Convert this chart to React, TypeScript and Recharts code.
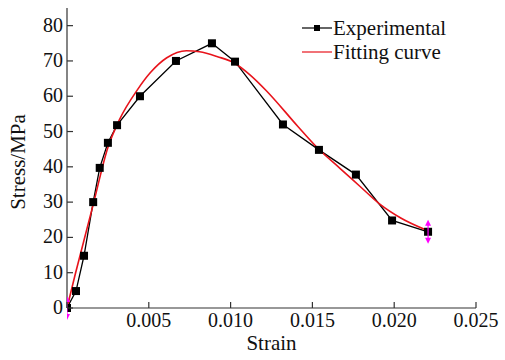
import React from 'react';
import { LineChart, Line, XAxis, YAxis, Scatter } from 'recharts';

// experimental points (strain, stress in MPa)
const expStrain = [0, 0.00055, 0.00104, 0.0016, 0.002, 0.0025, 0.00306, 0.00446, 0.00666, 0.00886, 0.01027, 0.0132, 0.0154, 0.01766, 0.01987, 0.02207];
const expStress = [0, 4.8, 14.8, 30, 39.7, 46.8, 51.8, 60, 70, 75, 69.8, 52, 44.8, 37.8, 24.8, 21.6];

// fitted curve
const fitStrain = [0, 0.0005, 0.001, 0.0016, 0.0025, 0.0032, 0.0043, 0.0051, 0.0061, 0.0073, 0.0081, 0.0092, 0.0102, 0.0112, 0.0122, 0.0141, 0.0153, 0.0167, 0.0179, 0.0191, 0.0204, 0.022];
const fitStress = [0, 9.5, 18.5, 29.3, 45.5, 53.3, 61.8, 66.7, 70.9, 72.9, 72.6, 71.2, 69.5, 66, 61.5, 51.5, 45.4, 39.5, 34.5, 29.5, 25.5, 22];

const xTicks = [0, 0.0025, 0.005, 0.0075, 0.01, 0.0125, 0.015, 0.0175, 0.02, 0.0225, 0.025];
const yTicks = [0, 5, 10, 15, 20, 25, 30, 35, 40, 45, 50, 55, 60, 65, 70, 75, 80];

const experimental = expStrain.map((x, i) => ({ x, y: expStress[i] }));
const fitting = fitStrain.map((x, i) => ({ x, y: fitStress[i] }));
const readerMarks = [experimental[0], experimental[experimental.length - 1]];

const FONT = 'Liberation Serif';
const AXIS = '#333';
const txt = { fontFamily: FONT, fontSize: 21, fill: '#111' };

const XTick = (props: any) => {
  const { x, y, payload } = props;
  const v = payload.value;
  const major = Math.abs(v / 0.005 - Math.round(v / 0.005)) < 1e-6;
  const label = major && v > 0 ? v.toFixed(3) : null;
  return (
    <g>
      <line x1={x} x2={x} y1={y} y2={y - (major ? 6 : 3)} stroke={AXIS} strokeWidth={1.2} />
      {label && (
        <text x={x} y={y + 19} textAnchor="middle" fontFamily={FONT} fontSize={20} fill="#111">
          {label}
        </text>
      )}
    </g>
  );
};

const YTick = (props: any) => {
  const { x, y, payload } = props;
  const v = payload.value;
  const major = v % 10 === 0;
  return (
    <g>
      <line x1={x} x2={x + (major ? 6 : 3)} y1={y} y2={y} stroke={AXIS} strokeWidth={1.2} />
      {major && (
        <text x={x - 4} y={y + 6} textAnchor="end" fontFamily={FONT} fontSize={20} fill="#111">
          {v}
        </text>
      )}
    </g>
  );
};

const YTitle = (props: any) => {
  const { viewBox } = props;
  const cx = 18;
  const cy = viewBox.y + viewBox.height / 2 + 4;
  return (
    <text x={cx} y={cy} transform={`rotate(-90, ${cx}, ${cy})`} textAnchor="middle" dominantBaseline="central" {...txt}>
      Stress/MPa
    </text>
  );
};

const SquareDot = (props: any) => {
  const { cx, cy } = props;
  if (cx == null || cy == null) return null;
  return <rect x={cx - 4} y={cy - 4} width={8} height={8} fill="#000" />;
};

const ReaderArrow = (props: any) => {
  const { cx, cy } = props;
  return (
    <g fill="#ff00ff" stroke="#ff00ff">
      <line x1={cx} x2={cx} y1={cy - 9} y2={cy + 9} strokeWidth={1.2} />
      <path d={`M${cx - 3},${cy - 6} L${cx},${cy - 12} L${cx + 3},${cy - 6} Z`} stroke="none" />
      <path d={`M${cx - 3},${cy + 6} L${cx},${cy + 12} L${cx + 3},${cy + 6} Z`} stroke="none" />
    </g>
  );
};

const LegendBox = () => (
  <div style={{ position: 'absolute', left: 302, top: 16, fontFamily: FONT, fontSize: 21, color: '#111', lineHeight: '24px' }}>
    <div style={{ display: 'flex', alignItems: 'center' }}>
      <svg width={30} height={12} style={{ marginRight: 1 }}>
        <line x1={0} x2={30} y1={6} y2={6} stroke="#000" strokeWidth={1.2} />
        <rect x={12} y={3} width={6} height={6} fill="#000" />
      </svg>
      <span>Experimental</span>
    </div>
    <div style={{ display: 'flex', alignItems: 'center' }}>
      <svg width={30} height={12} style={{ marginRight: 1 }}>
        <line x1={0} x2={30} y1={6} y2={6} stroke="#e8131b" strokeWidth={1.2} />
      </svg>
      <span>Fitting curve</span>
    </div>
  </div>
);

export default function App() {
  return (
    <div style={{ position: 'absolute', left: 0, top: 0, width: 505, height: 360, background: '#fff', fontFamily: FONT }}>
      <LineChart width={505} height={360} margin={{ top: 8, right: 29, bottom: 0, left: 0 }}>
        <XAxis
          type="number"
          dataKey="x"
          domain={[0, 0.025]}
          ticks={xTicks}
          tick={<XTick />}
          tickLine={false}
          tickSize={0}
          tickMargin={0}
          height={52}
          stroke={AXIS}
          strokeWidth={1.2}
          allowDataOverflow
          label={{ value: 'Strain', position: 'insideBottom', offset: 10, style: txt }}
        />
        <YAxis
          type="number"
          dataKey="y"
          domain={[0, 85]}
          ticks={yTicks}
          tick={<YTick />}
          tickLine={false}
          tickSize={0}
          tickMargin={0}
          width={67}
          stroke={AXIS}
          strokeWidth={1.2}
          label={{ content: <YTitle /> }}
        />
        <Line
          data={experimental}
          dataKey="y"
          type="linear"
          stroke="#000"
          strokeWidth={1.3}
          dot={<SquareDot />}
          activeDot={false}
          isAnimationActive={false}
        />
        <Line
          data={fitting}
          dataKey="y"
          type="monotone"
          stroke="#e8131b"
          strokeWidth={1.6}
          dot={false}
          activeDot={false}
          isAnimationActive={false}
        />
        <Scatter data={readerMarks} dataKey="y" shape={<ReaderArrow />} isAnimationActive={false} legendType="none" />
      </LineChart>
      <LegendBox />
    </div>
  );
}
